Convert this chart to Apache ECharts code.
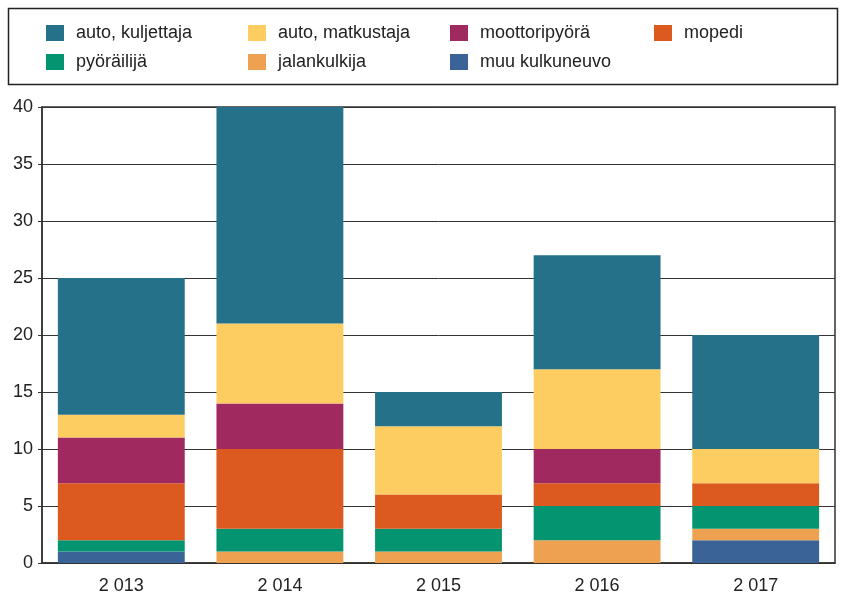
<!DOCTYPE html>
<html><head><meta charset="utf-8">
<script src="https://cdn.jsdelivr.net/npm/echarts@6/dist/echarts.min.js"></script>
<style>html,body{margin:0;padding:0;background:#fff}#c{width:846px;height:596px}</style>
</head><body><div id="c"></div>
<script>
const categories = ["2 013", "2 014", "2 015", "2 016", "2 017"];
const muuKulkuneuvo = [1, 0, 0, 0, 2];
const jalankulkija = [0, 1, 1, 2, 1];
const pyorailija = [1, 2, 2, 3, 2];
const mopedi = [5, 7, 3, 2, 2];
const moottoripyora = [4, 4, 0, 3, 0];
const autoMatkustaja = [2, 7, 6, 7, 3];
const autoKuljettaja = [12, 19, 3, 10, 10];
const yTicks = [0, 5, 10, 15, 20, 25, 30, 35, 40];

const seriesDefs = [
  {name: "muu kulkuneuvo", data: muuKulkuneuvo, color: "#3a6498"},
  {name: "jalankulkija", data: jalankulkija, color: "#efa152"},
  {name: "pyöräilijä", data: pyorailija, color: "#059470"},
  {name: "mopedi", data: mopedi, color: "#dc5a1f"},
  {name: "moottoripyörä", data: moottoripyora, color: "#a02a60"},
  {name: "auto, matkustaja", data: autoMatkustaja, color: "#fdcd62"},
  {name: "auto, kuljettaja", data: autoKuljettaja, color: "#26718a"}
];

const font = "Liberation Sans, Arial, sans-serif";
const legendCols = [
  {items: ["auto, kuljettaja", "pyöräilijä"], left: 46},
  {items: ["auto, matkustaja", "jalankulkija"], left: 248},
  {items: ["moottoripyörä", "muu kulkuneuvo"], left: 450},
  {items: ["mopedi"], left: 654}
];

const chart = echarts.init(document.getElementById('c'), null, {renderer: 'canvas'});
chart.setOption({
  animation: false,
  textStyle: {fontFamily: font},
  graphic: [{
    type: 'rect',
    shape: {x: 8.5, y: 8.5, width: 829, height: 76},
    style: {fill: 'none', stroke: '#222', lineWidth: 1.5}
  }],
  legend: legendCols.map(c => ({
    data: c.items,
    orient: 'vertical',
    left: c.left,
    top: 24,
    padding: 0,
    itemGap: 11,
    itemWidth: 18,
    itemHeight: 16,
    icon: 'rect',
    selectedMode: false,
    textStyle: {fontSize: 18, color: '#222', fontFamily: font, padding: [0, 0, 0, 7]}
  })),
  grid: {left: 42, right: 11, top: 107, bottom: 33, show: true, borderColor: '#333', borderWidth: 1.5, backgroundColor: 'transparent'},
  xAxis: {
    type: 'category',
    data: categories,
    axisLine: {lineStyle: {color: '#333', width: 1.5}},
    axisTick: {show: false},
    axisLabel: {fontSize: 18, color: '#222', margin: 14, fontFamily: font}
  },
  yAxis: {
    type: 'value',
    min: 0, max: 40, interval: 5,
    axisLine: {show: true, lineStyle: {color: '#333', width: 1.5}},
    axisTick: {show: true, length: 4, lineStyle: {color: '#333'}},
    axisLabel: {fontSize: 18, color: '#222', margin: 9, fontFamily: font,
      formatter: v => yTicks.includes(v) ? String(v) : ''},
    splitLine: {show: true, lineStyle: {color: '#333', width: 1}}
  },
  series: seriesDefs.map(s => ({
    name: s.name,
    type: 'bar',
    stack: 'total',
    data: s.data,
    barWidth: '80%',
    itemStyle: {color: s.color},
    z: 3
  }))
});
</script></body></html>
